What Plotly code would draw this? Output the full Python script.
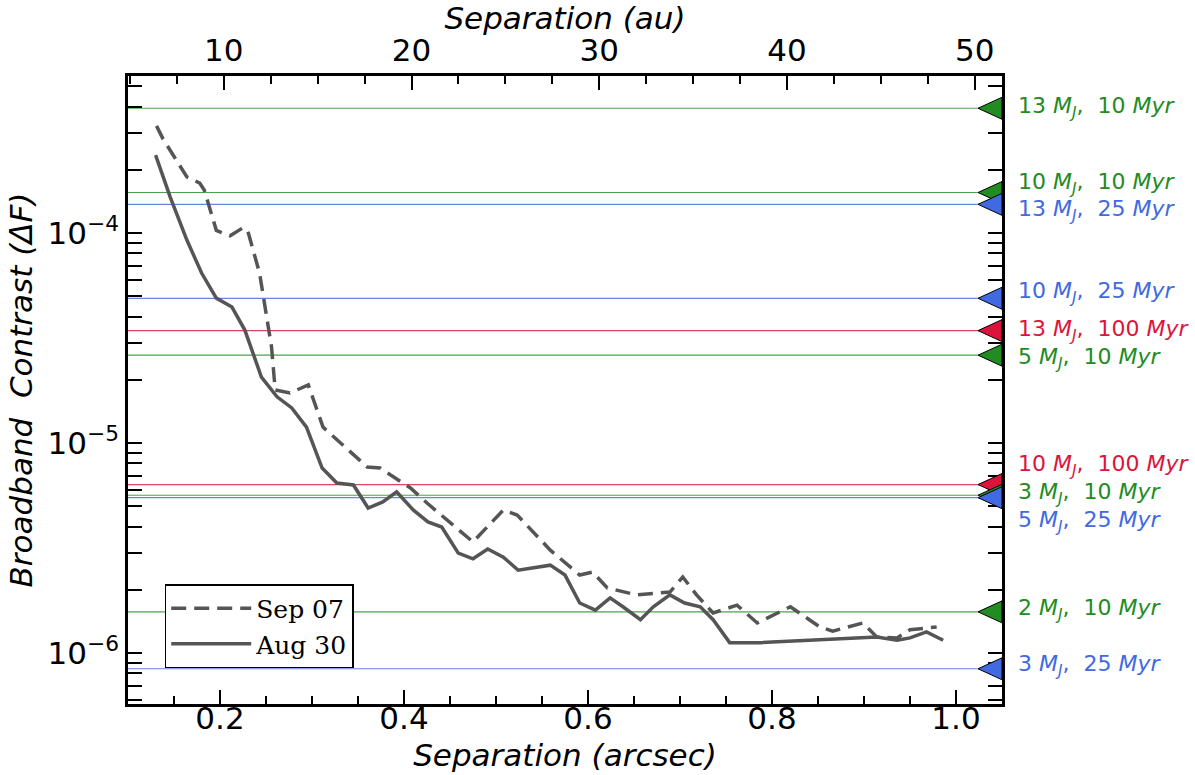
import numpy as np
import plotly.graph_objects as go

# ---------------- data ----------------
sep07_x = [0.131, 0.138, 0.164, 0.178, 0.183, 0.196, 0.211, 0.225, 0.230, 0.243, 0.256,
           0.260, 0.276, 0.296, 0.312, 0.330, 0.360, 0.374, 0.407, 0.425, 0.475, 0.508,
           0.523, 0.559, 0.591, 0.605, 0.621, 0.653, 0.689, 0.703, 0.718, 0.736, 0.762,
           0.784, 0.820, 0.852, 0.866, 0.899, 0.914, 0.936, 0.950, 0.979]
sep07_y = [3.24e-4, 2.81e-4, 1.85e-4, 1.73e-4, 1.60e-4, 1.03e-4, 9.7e-5, 1.06e-4, 1.03e-4,
           6.45e-5, 2.87e-5, 1.79e-5, 1.73e-5, 1.89e-5, 1.19e-5, 1.01e-5, 7.69e-6, 7.60e-6,
           6.11e-6, 5.18e-6, 3.38e-6, 4.80e-6, 4.54e-6, 3.09e-6, 2.35e-6, 2.43e-6, 2.04e-6,
           1.89e-6, 1.95e-6, 2.30e-6, 1.89e-6, 1.55e-6, 1.69e-6, 1.39e-6, 1.66e-6, 1.33e-6,
           1.27e-6, 1.39e-6, 1.19e-6, 1.18e-6, 1.29e-6, 1.33e-6]

aug30_x = [0.130, 0.146, 0.164, 0.180, 0.196, 0.213, 0.227, 0.245, 0.262, 0.278, 0.294,
           0.311, 0.327, 0.345, 0.361, 0.377, 0.392, 0.410, 0.426, 0.441, 0.459, 0.475,
           0.491, 0.508, 0.524, 0.540, 0.559, 0.575, 0.591, 0.608, 0.624, 0.638, 0.657,
           0.671, 0.689, 0.705, 0.722, 0.736, 0.754, 0.787, 0.914, 0.936, 0.950, 0.968, 0.986]
aug30_y = [2.35e-4, 1.48e-4, 9.26e-5, 6.45e-5, 4.90e-5, 4.44e-5, 3.45e-5, 2.06e-5, 1.66e-5,
           1.47e-5, 1.19e-5, 7.60e-6, 6.45e-6, 6.31e-6, 4.90e-6, 5.24e-6, 5.85e-6, 4.80e-6,
           4.21e-6, 3.98e-6, 2.99e-6, 2.81e-6, 3.13e-6, 2.86e-6, 2.48e-6, 2.54e-6, 2.62e-6,
           2.35e-6, 1.73e-6, 1.60e-6, 1.83e-6, 1.66e-6, 1.44e-6, 1.66e-6, 1.89e-6, 1.73e-6,
           1.66e-6, 1.44e-6, 1.12e-6, 1.12e-6, 1.19e-6, 1.15e-6, 1.18e-6, 1.26e-6, 1.15e-6]

model_mass = [13, 10, 13, 10, 13, 5, 10, 3, 5, 2, 3]
model_age = [10, 10, 25, 25, 100, 10, 100, 10, 25, 10, 25]
model_contrast = [3.93e-4, 1.56e-4, 1.37e-4, 4.89e-5, 3.43e-5, 2.62e-5,
                  6.34e-6, 5.64e-6, 5.49e-6, 1.57e-6, 8.41e-7]
label_shift_px = [1, 9, -6, 6, 0, -3, 19, 2, -24, 2, 3]

age_colors = {10: "#228B22", 25: "#4169E1", 100: "#DC143C"}

DIST_PC = 49.0
x_range = [0.1, 1.05]
y_range_log = [-6.243, -3.252]

y_major = [1e-6, 1e-5, 1e-4]
y_major_text = ["10<sup>\u22126</sup>", "10<sup>\u22125</sup>", "10<sup>\u22124</sup>"]
y_minor = [m * 10.0 ** e for e in range(-7, -3) for m in range(2, 10)]

FONT = "DejaVu Sans"
CURVE = "#555555"

# ---------------- figure ----------------
fig = go.Figure()
fig.add_trace(go.Scatter(x=sep07_x, y=sep07_y, mode="lines", name="Sep 07",
                         line=dict(color=CURVE, width=3.5, dash="15px,8px")))
fig.add_trace(go.Scatter(x=aug30_x, y=aug30_y, mode="lines", name="Aug 30",
                         line=dict(color=CURVE, width=3.5)))
# helper (invisible) trace to activate the top au axis
fig.add_trace(go.Scatter(x=[v * DIST_PC for v in aug30_x], y=aug30_y, xaxis="x2",
                         mode="lines", line=dict(width=0), opacity=0,
                         hoverinfo="skip", showlegend=False))

shapes = []
annotations = []
for m, a, c, s in zip(model_mass, model_age, model_contrast, label_shift_px):
    col = age_colors[a]
    shapes.append(dict(type="line", xref="paper", x0=0, x1=1, yref="y", y0=c, y1=c,
                       line=dict(color=col, width=1.2), opacity=0.8, layer="below"))
    shapes.append(dict(type="path", xref="paper", xsizemode="pixel", xanchor=1,
                       yref="y", ysizemode="pixel", yanchor=c,
                       path="M -24,0 L 0,11 L 0,-11 Z",
                       fillcolor=col, line=dict(color="black", width=1), layer="above"))
    annotations.append(dict(xref="paper", x=1.016, xanchor="left", yref="y",
                            y=float(np.log10(c)),
                            yanchor="middle", yshift=s, showarrow=False,
                            text=f"{m} <i>M</i><sub><i>J</i></sub>,&nbsp; {a} <i>Myr</i>",
                            font=dict(family=FONT, size=22, color=col)))

fig.update_layout(
    width=1195, height=775,
    margin=dict(l=128, r=193, t=76, b=71, autoexpand=False),
    paper_bgcolor="white", plot_bgcolor="rgba(0,0,0,0)",
    font=dict(family=FONT, size=31, color="black"),
    shapes=shapes, annotations=annotations,
    showlegend=True,
    legend=dict(x=0.042, y=0.191, xanchor="left", yanchor="top",
                bgcolor="white", bordercolor="black", borderwidth=1.5,
                font=dict(family="DejaVu Serif", size=25, color="black"),
                tracegroupgap=0, itemwidth=80),
    xaxis=dict(range=x_range, tick0=0, dtick=0.2, tickformat=".1f", automargin=False,
               ticks="inside", ticklen=14, tickwidth=2, tickcolor="black",
               ticklabelstandoff=-15,
               minor=dict(dtick=0.05, ticks="inside", ticklen=8, tickwidth=1.5, tickcolor="black"),
               showline=True, linewidth=2.5, linecolor="black", mirror=False,
               showgrid=False, zeroline=False,
               title=dict(text="<i>Separation (arcsec)</i>", standoff=10,
                          font=dict(family=FONT, size=31))),
    xaxis2=dict(range=[v * DIST_PC for v in x_range], overlaying="x", side="top", anchor="y",
                tick0=0, dtick=10, automargin=False,
                ticks="inside", ticklen=14, tickwidth=2, tickcolor="black",
                minor=dict(dtick=2.5, ticks="inside", ticklen=8, tickwidth=1.5, tickcolor="black"),
                showline=True, linewidth=2.5, linecolor="black",
                showgrid=False, zeroline=False,
                title=dict(text="<i>Separation (au)</i>", standoff=8,
                           font=dict(family=FONT, size=31))),
    yaxis=dict(type="log", range=y_range_log, automargin=False,
               tickmode="array", tickvals=y_major, ticktext=y_major_text,
               ticks="inside", ticklen=14, tickwidth=2, tickcolor="black",
               minor=dict(tickmode="array", tickvals=y_minor, ticks="inside",
                          ticklen=8, tickwidth=1.5, tickcolor="black"),
               showline=True, linewidth=2.5, linecolor="black", mirror="allticks",
               showgrid=False, zeroline=False,
               title=dict(text="<i>Broadband  Contrast (\u0394F)</i>", standoff=6,
                          font=dict(family=FONT, size=31))),
)

fig.write_html("out.html")
